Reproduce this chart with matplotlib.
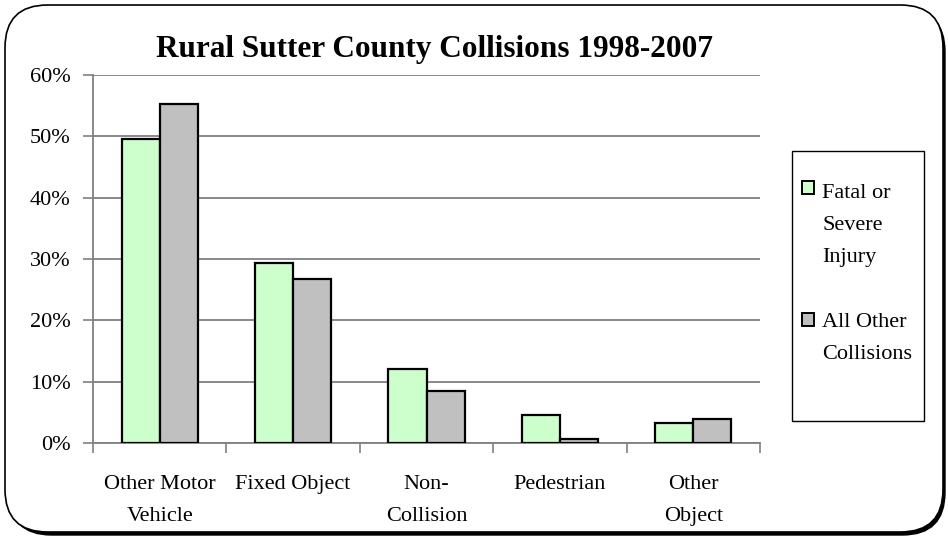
import matplotlib
matplotlib.use("Agg")
import matplotlib.pyplot as plt
import numpy as np
from matplotlib.patches import FancyBboxPatch, Rectangle
from matplotlib.ticker import PercentFormatter

categories = ["Other Motor\nVehicle", "Fixed Object", "Non-\nCollision", "Pedestrian", "Other\nObject"]
series_names = ["Fatal or\nSevere\nInjury", "All Other\nCollisions"]
fatal_severe = [49.5, 29.4, 12.0, 4.5, 3.3]
all_other = [55.2, 26.7, 8.5, 0.6, 3.9]
y_ticks = [0, 10, 20, 30, 40, 50, 60]
title = "Rural Sutter County Collisions 1998-2007"
colors = ["#CCFFCC", "#C0C0C0"]

plt.rcParams['font.family'] = ['Liberation Serif', 'DejaVu Serif']

W, H = 948, 537
fig = plt.figure(figsize=(W/100, H/100), dpi=100)

def fx(px):
    return px / W
def fy(py):
    return 1 - py / H

# frame with shadow
shadow = FancyBboxPatch((fx(9), fy(535)), fx(936), (535-9)/H,
                        boxstyle="round,pad=0,rounding_size=0.045",
                        transform=fig.transFigure, facecolor="black", edgecolor="black",
                        mutation_aspect=W/H, zorder=0)
fig.patches.append(shadow)
frame = FancyBboxPatch((fx(5), fy(532)), fx(938), (532-5)/H,
                       boxstyle="round,pad=0,rounding_size=0.045",
                       transform=fig.transFigure, facecolor="white", edgecolor="black",
                       linewidth=1.2, mutation_aspect=W/H, zorder=0.5)
fig.patches.append(frame)

ax = fig.add_axes([fx(93), fy(443), fx(760) - fx(93), fy(75) - fy(443)])
ax.set_zorder(2)
ax.set_facecolor("none")
x = np.arange(len(categories))
w = 1 / 3.5
ax.bar(x - w/2, fatal_severe, width=w, color=colors[0], edgecolor="black", linewidth=1.6, zorder=3)
ax.bar(x + w/2, all_other, width=w, color=colors[1], edgecolor="black", linewidth=1.6, zorder=3)

ax.set_xlim(-0.5, len(categories) - 0.5)
ax.set_ylim(0, 60)
ax.set_yticks(y_ticks)
ax.yaxis.set_major_formatter(PercentFormatter(decimals=0))
ax.yaxis.grid(True, color="#808080", linewidth=1.3, zorder=1)
ax.set_axisbelow(True)
for s in ["top", "right"]:
    ax.spines[s].set_visible(False)
for s in ["left", "bottom"]:
    ax.spines[s].set_color("#808080")
    ax.spines[s].set_linewidth(1.3)
ax.tick_params(axis="y", direction="out", length=7, width=1.2, color="#808080", labelsize=16, pad=9)
# category boundary ticks
ax.set_xticks(np.arange(-0.5, len(categories)), minor=False)
ax.set_xticklabels([])
ax.tick_params(axis="x", direction="out", length=7, width=1.2, color="#808080")
ax.set_xticks(x, minor=True)
ax.set_xticklabels(categories, minor=True, fontsize=16, linespacing=1.91, va="top")
ax.tick_params(axis="x", which="minor", length=0, pad=23)

fig.text(fx(435), fy(57.3), title, ha="center", va="baseline", fontsize=22.5, fontweight="bold")

# legend box
lg = Rectangle((fx(792), fy(421)), fx(924) - fx(792), (421-151)/H, transform=fig.transFigure,
               facecolor="white", edgecolor="black", linewidth=1.0, zorder=3)
fig.patches.append(lg)
legend_marker_tops = [181, 313]
legend_baselines = [197.7, 327]
for name, col, top, base in zip(series_names, colors, legend_marker_tops, legend_baselines):
    fig.patches.append(Rectangle((fx(801.5), fy(top + 12.5)), fx(12), 12.5/H, transform=fig.transFigure,
                                 facecolor=col, edgecolor="black", linewidth=1.4, zorder=4))
    for i, line in enumerate(name.split("\n")):
        fig.text(fx(822), fy(base + 32 * i), line, ha="left", va="baseline", fontsize=16, zorder=5)

fig.savefig("out.png", dpi=100)
